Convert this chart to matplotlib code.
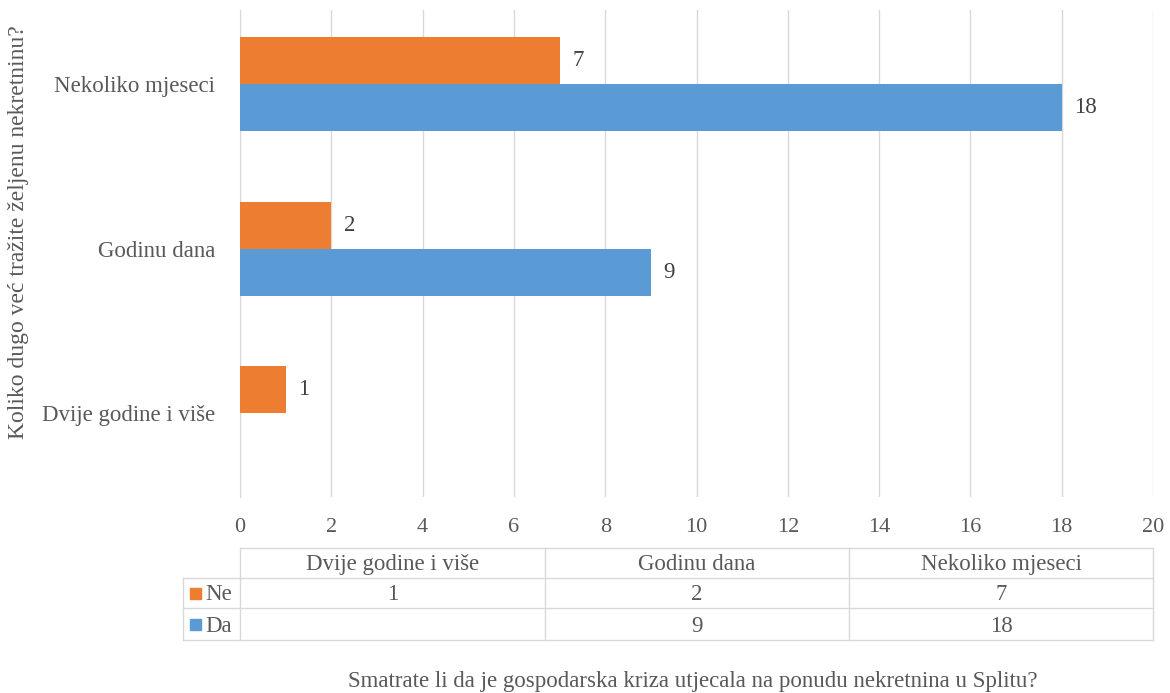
import numpy as np
import matplotlib.pyplot as plt
from matplotlib.lines import Line2D
from matplotlib.patches import Rectangle

categories = ['Dvije godine i više', 'Godinu dana', 'Nekoliko mjeseci']
ne_values = [1, 2, 7]
da_values = [None, 9, 18]
series_names = ['Ne', 'Da']
x_ticks = [0, 2, 4, 6, 8, 10, 12, 14, 16, 18, 20]

orange = '#ED7D31'
blue = '#5B9BD5'
txt = '#595959'
grid = '#D9D9D9'

plt.rcParams['font.family'] = ['Liberation Serif', 'DejaVu Serif']

W, H = 1170, 693
fig = plt.figure(figsize=(W / 100, H / 100), dpi=100)


def fx(px):
    return px / W


def fy(py):
    return 1 - py / H


ax = fig.add_axes([fx(240), fy(497), fx(1153) - fx(240), fy(10) - fy(497)])

y = np.arange(len(categories))
h = 0.286
ne_plot = [v if v is not None else 0 for v in ne_values]
da_plot = [v if v is not None else 0 for v in da_values]
ax.barh(y + h / 2, ne_plot, height=h, color=orange, zorder=3)
ax.barh(y - h / 2, da_plot, height=h, color=blue, zorder=3)

for i in range(len(categories)):
    if ne_values[i] is not None:
        ax.annotate(str(ne_values[i]), (ne_values[i], y[i] + h / 2), xytext=(9, 0),
                    textcoords='offset points', va='center', ha='left', fontsize=16.5, color='#404040')
    if da_values[i] is not None:
        ax.annotate(str(da_values[i]), (da_values[i], y[i] - h / 2), xytext=(9, 0),
                    textcoords='offset points', va='center', ha='left', fontsize=16.5, color='#404040')

ax.set_xlim(0, 20)
ax.set_ylim(-0.51, 2.45)
ax.set_xticks(x_ticks)
ax.set_xticklabels([str(t) for t in x_ticks], fontsize=16, color=txt)
ax.set_yticks(y)
ax.set_yticklabels(categories, fontsize=16.5, color=txt)
ax.tick_params(axis='both', length=0)
ax.tick_params(axis='x', pad=15)
ax.tick_params(axis='y', pad=18)
ax.grid(axis='x', color=grid, linewidth=1, zorder=0)
for s in ['top', 'right', 'bottom']:
    ax.spines[s].set_visible(False)
ax.spines['left'].set_color(grid)

fig.text(fx(19), fy(232), 'Koliko dugo već tražite željenu nekretninu?', rotation=90,
         ha='center', va='center', fontsize=17, color=txt)

# data table below the chart
col_edges = [240, 545, 849, 1153]
row_edges = [548, 578, 608, 640]
lc = '#D9D9D9'


def hline(x0, x1, yy):
    fig.add_artist(Line2D([fx(x0), fx(x1)], [fy(yy), fy(yy)], color=lc, lw=1))


def vline(xx, y0, y1):
    fig.add_artist(Line2D([fx(xx), fx(xx)], [fy(y0), fy(y1)], color=lc, lw=1))


hline(240, 1153, row_edges[0])
for r in row_edges[1:]:
    hline(183, 1153, r)
vline(183, row_edges[1], row_edges[3])
for c in col_edges:
    vline(c, row_edges[0], row_edges[3])

for j, cat in enumerate(categories):
    cx = (col_edges[j] + col_edges[j + 1]) / 2
    fig.text(fx(cx), fy(row_edges[1] - 8), cat, ha='center', va='baseline',
             fontsize=16.5, color=txt)
    for k, vals in enumerate([ne_values, da_values]):
        if vals[j] is not None:
            fig.text(fx(cx), fy(row_edges[k + 2] - 8), str(vals[j]),
                     ha='center', va='baseline', fontsize=16.5, color=txt)

for k, (name, col) in enumerate(zip(series_names, [orange, blue])):
    cy = (row_edges[k + 1] + row_edges[k + 2]) / 2
    fig.add_artist(Rectangle((fx(190), fy(cy + 6)), fx(11), fy(0) - fy(11),
                             transform=fig.transFigure, color=col))
    fig.text(fx(205), fy(row_edges[k + 2] - 8), name, ha='left', va='baseline', fontsize=16.5, color=txt)

fig.text(fx(693), fy(681), 'Smatrate li da je gospodarska kriza utjecala na ponudu nekretnina u Splitu?',
         ha='center', va='center', fontsize=16.5, color=txt)

fig.savefig('out.png', dpi=100)
